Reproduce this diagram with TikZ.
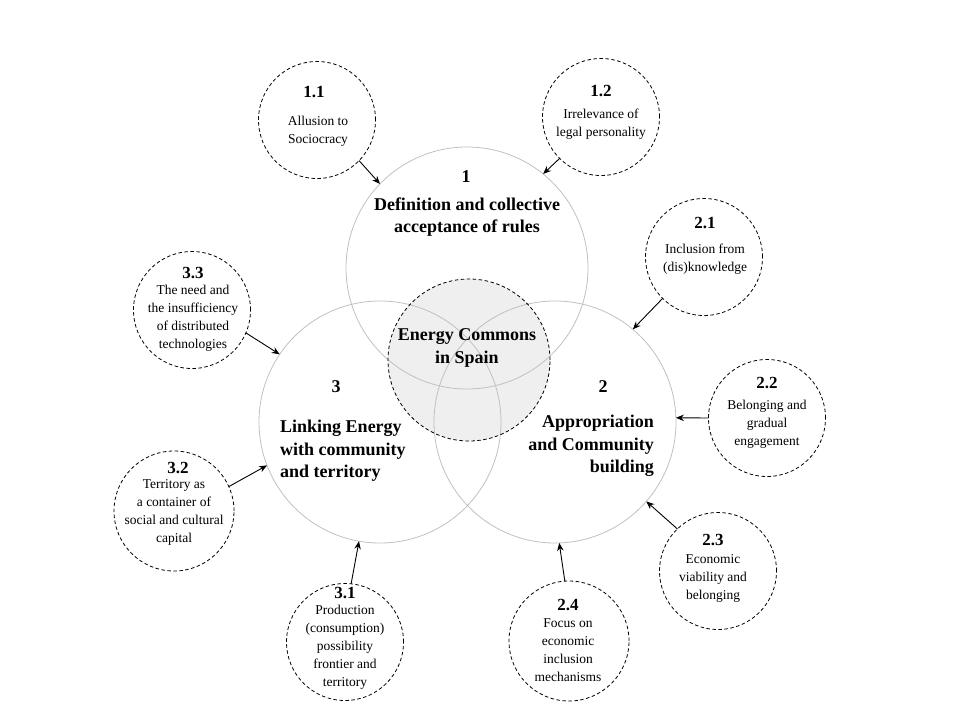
\documentclass[tikz,border=0pt]{standalone}
\usepackage{fontspec}
\setmainfont{Liberation Serif}
\usetikzlibrary{arrows.meta}
\definecolor{bigline}{RGB}{192,192,192}
\definecolor{centerfill}{RGB}{239,239,239}
\begin{document}
\begin{tikzpicture}[x=1pt,y=-1pt,
 big/.style={circle,draw=bigline,line width=0.8pt,minimum size=242pt,inner sep=0pt,outer sep=0pt},
 small/.style={circle,draw=black,dash pattern=on 3.5pt off 2.5pt,line width=0.8pt,minimum size=117pt,inner sep=0pt,outer sep=0pt},
 num/.style={font=\bfseries\fontsize{17}{20}\selectfont,inner sep=0pt},
 body/.style={font=\fontsize{13.5}{18}\selectfont,align=center,inner sep=0pt},
 head/.style={font=\bfseries\fontsize{18}{22.5}\selectfont,inner sep=0pt},
 arr/.style={-{Stealth[length=8pt,width=6.5pt]},line width=0.9pt}]
\useasboundingbox (0,0) rectangle (960,720);
\fill[centerfill] (469,360) circle (81pt);
% big circles
\node[big] (c1) at (467,268) {};
\node[big] (c3) at (380,422) {};
\node[big] (c2) at (555,422) {};
\node[circle,draw=black,dash pattern=on 3.5pt off 2.5pt,line width=0.8pt,minimum size=162pt,inner sep=0pt,outer sep=0pt] (cc) at (469,360) {};
% big texts
\node[head] (h1n) at (466,177) {1};
\node[head,align=center] (h1) at (467,217) {Definition and collective\\acceptance of rules};
\node[head,align=center] (hc) at (467,348) {Energy Commons\\in Spain};
\node[head] (h3n) at (336,387) {3};
\node[head,align=left,anchor=west] (h3) at (280,451) {Linking Energy\\with community\\and territory};
\node[head] (h2n) at (603,387) {2};
\node[head,align=right,anchor=east] (h2) at (654,446) {Appropriation\\and Community\\building};
% small circles
\node[small] (s11) at (317,120) {};
\node[small] (s12) at (601,117) {};
\node[small] (s21) at (704,257) {};
\node[small] (s22) at (767,418) {};
\node[small] (s23) at (718,571) {};
\node[small,minimum size=120pt] (s24) at (569,641) {};
\node[small] (s31) at (345,642) {};
\node[small,minimum size=120pt] (s32) at (174,511) {};
\node[small] (s33) at (192,310) {};
% small texts
\node[num] (n11) at (314,92) {1.1};
\node[body] (b11) at (318,131) {Allusion to\\Sociocracy};
\node[num] (n12) at (601,91) {1.2};
\node[body] (b12) at (601,124) {Irrelevance of\\legal personality};
\node[num] (n21) at (705,223) {2.1};
\node[body] (b21) at (705,259) {Inclusion from\\(dis)knowledge};
\node[num] (n22) at (767,383) {2.2};
\node[body] (b22) at (767,424) {Belonging and\\gradual\\engagement};
\node[num] (n23) at (713,540) {2.3};
\node[body] (b23) at (713,578) {Economic\\viability and\\belonging};
\node[num] (n24) at (568,605) {2.4};
\node[body] (b24) at (568,650) {Focus on\\economic\\inclusion\\mechanisms};
\node[num] (n31) at (345,593) {3.1};
\node[body] (b31) at (345,647) {Production\\(consumption)\\possibility\\frontier and\\territory};
\node[num] (n32) at (178,468) {3.2};
\node[body] (b32) at (174,512) {Territory as\\a container of\\social and cultural\\capital};
\node[num] (n33) at (193,273) {3.3};
\node[body] (b33) at (193,318) {The need and\\the insufficiency\\of distributed\\technologies};
% arrows
\draw[arr] (s11.-44) -- (c1.136);
\draw[arr] (s12.225) -- (c1.51);
\draw[arr] (s21.225) -- (c2.50);
\draw[arr] (s22.180) -- (c2.2);
\draw[arr] (s23.134) -- (c2.-41);
\draw[arr] (s24.94) -- (c2.272);
\draw[arr] (s31.84) -- (c3.260);
\draw[arr] (s32.24) -- (c3.201);
\draw[arr] (s33.-23) -- (c3.146);
\end{tikzpicture}
\end{document}
